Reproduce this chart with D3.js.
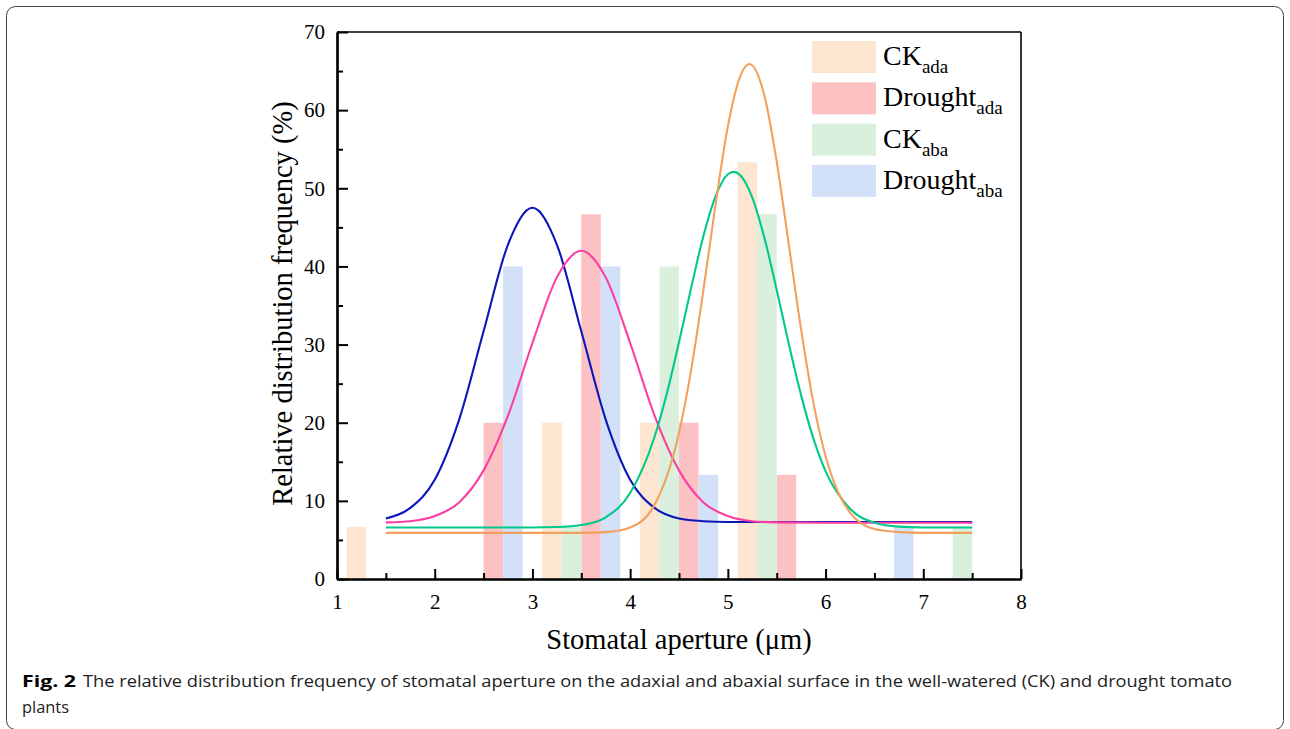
<!DOCTYPE html>
<html>
<head>
<meta charset="utf-8">
<script src="https://cdn.jsdelivr.net/npm/d3@7"></script>
<style>
  body { margin: 0; background: #fff; }
  svg { display: block; }
  .axis text { font-family: "Liberation Serif", "DejaVu Serif", serif; font-size: 21px; fill: #000; }
</style>
</head>
<body>
<div id="chart"></div>
<script>
// bin centres of the histogram (µm)
const binCenters = [1.5, 2.5, 3.5, 4.5, 5.5, 6.5, 7.5];

// relative frequency (%) per bin
const ckAda      = [6.67, 0, 20, 20, 53.33, 0, 0];
const droughtAda = [0, 20, 46.67, 20, 13.33, 0, 0];
const ckAba      = [0, 0, 6.67, 40, 46.67, 0, 6.67];
const droughtAba = [0, 40, 40, 13.33, 0, 6.67, 0];

// fitted curves, [x, y]
const fitCkAda = [[1.5,5.9],[2,5.9],[2.5,5.9],[3,5.9],[3.5,5.9],[3.75,6.0],[4,6.6],[4.25,9.5],[4.5,18.7],[4.625,26.8],
  [4.75,37.0],[4.875,48.0],[5,57.9],[5.125,64.3],[5.22,65.9],[5.375,61.8],[5.5,53.4],[5.625,42.7],[5.75,31.9],[5.875,22.6],
  [6,15.7],[6.125,11.2],[6.25,8.5],[6.5,6.4],[6.75,6.0],[7,5.9],[7.5,5.9]];
const fitDroughtAda = [[1.5,7.25],[1.75,7.4],[2,8.05],[2.25,9.8],[2.5,13.9],[2.75,20.9],[3,30.2],[3.25,38.6],[3.5,42.0],
  [3.75,38.6],[4,30.2],[4.25,20.9],[4.5,13.9],[4.75,9.8],[5,8.05],[5.25,7.4],[5.5,7.25],[6,7.2],[7.5,7.2]];
const fitCkAba = [[1.5,6.6],[2,6.6],[2.5,6.6],[3,6.6],[3.25,6.65],[3.5,6.9],[3.75,7.9],[4,11.0],[4.25,18.2],[4.375,23.7],
  [4.5,30.3],[4.625,37.3],[4.75,43.9],[4.875,49.0],[5,51.8],[5.06,52.1],[5.125,51.7],[5.25,48.8],[5.375,43.6],[5.5,37.0],
  [5.625,30.0],[5.75,23.5],[5.875,18.0],[6,13.8],[6.25,9.0],[6.5,7.2],[6.75,6.7],[7,6.6],[7.5,6.6]];
const fitDroughtAba = [[1.5,7.75],[1.75,9.1],[2,12.7],[2.25,20.4],[2.5,31.7],[2.75,42.8],[3,47.5],[3.25,42.8],[3.5,31.7],
  [3.75,20.4],[4,12.7],[4.25,9.1],[4.5,7.75],[4.75,7.4],[5,7.3],[5.5,7.3],[7.5,7.3]];

const xTicks = [1, 2, 3, 4, 5, 6, 7, 8];
const yTicks = [0, 10, 20, 30, 40, 50, 60, 70];

const series = [
  { name: "CK", sub: "ada", values: ckAda, fit: fitCkAda, offset: -0.3, fill: "#fde6d1", line: "#f3a05c" },
  { name: "Drought", sub: "ada", values: droughtAda, fit: fitDroughtAda, offset: 0.1, fill: "#fcc2c3", line: "#fb3ea1" },
  { name: "CK", sub: "aba", values: ckAba, fit: fitCkAba, offset: -0.1, fill: "#daefdc", line: "#00c98a" },
  { name: "Drought", sub: "aba", values: droughtAba, fit: fitDroughtAba, offset: 0.3, fill: "#d3e1f8", line: "#0b17b8" }
];
const barWidth = 0.2;

const W = 1290, H = 729;
const margin = { top: 32, right: 269, bottom: 150, left: 337 };

const svg = d3.select("#chart").append("svg")
  .attr("width", W)
  .attr("height", H);

// rounded frame around the figure
svg.append("rect")
  .attr("x", 6.5).attr("y", 6.5)
  .attr("width", W - 13).attr("height", H - 6)
  .attr("rx", 9)
  .attr("fill", "none")
  .attr("stroke", "#444")
  .attr("stroke-width", 1);

const x = d3.scaleLinear().domain([1, 8]).range([margin.left, W - margin.right]);
const y = d3.scaleLinear().domain([0, 70]).range([H - margin.bottom, margin.top]);

// bars
series.forEach(s => {
  svg.append("g").selectAll("rect")
    .data(binCenters.map((c, i) => ({ c: c, v: s.values[i] })).filter(d => d.v > 0))
    .enter()
    .append("rect")
    .attr("x", d => x(d.c + s.offset - barWidth / 2))
    .attr("width", d => x(d.c + s.offset + barWidth / 2) - x(d.c + s.offset - barWidth / 2))
    .attr("y", d => y(d.v))
    .attr("height", d => y(0) - y(d.v))
    .attr("fill", s.fill);
});

// fitted curves
const line = d3.line()
  .x(d => x(d[0]))
  .y(d => y(d[1]))
  .curve(d3.curveMonotoneX);

[series[3], series[1], series[2], series[0]].forEach(s => {
  svg.append("path")
    .datum(s.fit)
    .attr("d", line)
    .attr("fill", "none")
    .attr("stroke", s.line)
    .attr("stroke-width", 2.1);
});

// top and right frame of the plot
svg.append("line")
  .attr("x1", x(1)).attr("x2", x(8)).attr("y1", y(70)).attr("y2", y(70))
  .attr("stroke", "#000").attr("stroke-width", 1.6);
svg.append("line")
  .attr("x1", x(8)).attr("x2", x(8)).attr("y1", y(70)).attr("y2", y(0))
  .attr("stroke", "#000").attr("stroke-width", 1.6);

// X-axis
const xAxis = d3.axisBottom(x).tickValues(xTicks).tickSizeInner(-10).tickSizeOuter(0).tickPadding(15).tickFormat(d3.format("d"));
const gx = svg.append("g")
  .attr("class", "axis")
  .attr("transform", `translate(0, ${y(0)})`)
  .call(xAxis);
svg.append("g")
  .attr("transform", `translate(0, ${y(0)})`)
  .call(d3.axisBottom(x).tickValues(d3.range(1.5, 8, 1)).tickSizeInner(-6).tickSizeOuter(0).tickFormat(""));

// Y-axis
const yAxis = d3.axisLeft(y).tickValues(yTicks).tickSizeInner(-11).tickSizeOuter(0).tickPadding(11);
const gy = svg.append("g")
  .attr("class", "axis")
  .attr("transform", `translate(${x(1)}, 0)`)
  .call(yAxis);
svg.append("g")
  .attr("transform", `translate(${x(1)}, 0)`)
  .call(d3.axisLeft(y).tickValues(d3.range(5, 70, 10)).tickSizeInner(-6).tickSizeOuter(0).tickFormat(""));

svg.selectAll(".domain").attr("stroke", "#000").attr("stroke-width", 2.2);
svg.selectAll(".tick line").attr("stroke", "#000").attr("stroke-width", 2);
gy.selectAll("text").attr("x", -12);

// axis labels
svg.append("text")
  .attr("x", (x(1) + x(8)) / 2)
  .attr("y", 649)
  .attr("text-anchor", "middle")
  .style("font-family", "'Liberation Serif', serif")
  .style("font-size", "28.5px")
  .text("Stomatal aperture (\u03bcm)");

svg.append("text")
  .attr("transform", "rotate(-90)")
  .attr("x", -(y(0) + y(70)) / 2 + 2)
  .attr("y", 292)
  .attr("text-anchor", "middle")
  .style("font-family", "'Liberation Serif', serif")
  .style("font-size", "28.5px")
  .text("Relative distribution frequency (%)");

// legend
const legend = svg.append("g").attr("transform", "translate(812, 41)");
series.forEach((s, i) => {
  const g = legend.append("g").attr("transform", `translate(0, ${i * 41.3})`);
  g.append("rect").attr("width", 64).attr("height", 32).attr("fill", s.fill);
  const t = g.append("text")
    .attr("x", 71).attr("y", 24)
    .style("font-family", "'Liberation Serif', serif")
    .style("font-size", "28px");
  t.append("tspan").text(s.name);
  t.append("tspan").attr("dy", 8).style("font-size", "19px").text(s.sub);
});

// caption
const capFont = "'Open Sans', 'Noto Sans', sans-serif";
svg.append("text")
  .attr("x", 22).attr("y", 687)
  .style("font-family", capFont).style("font-size", "16px").style("font-weight", "bold")
  .attr("textLength", 54).attr("lengthAdjust", "spacingAndGlyphs")
  .text("Fig. 2");
svg.append("text")
  .attr("x", 83).attr("y", 687)
  .style("font-family", capFont).style("font-size", "16px").attr("fill", "#222")
  .attr("textLength", 1149).attr("lengthAdjust", "spacingAndGlyphs")
  .text("The relative distribution frequency of stomatal aperture on the adaxial and abaxial surface in the well-watered (CK) and drought tomato");
svg.append("text")
  .attr("x", 22).attr("y", 713)
  .style("font-family", capFont).style("font-size", "16px").attr("fill", "#222")
  .attr("textLength", 47).attr("lengthAdjust", "spacingAndGlyphs")
  .text("plants");
</script>
</body>
</html>
